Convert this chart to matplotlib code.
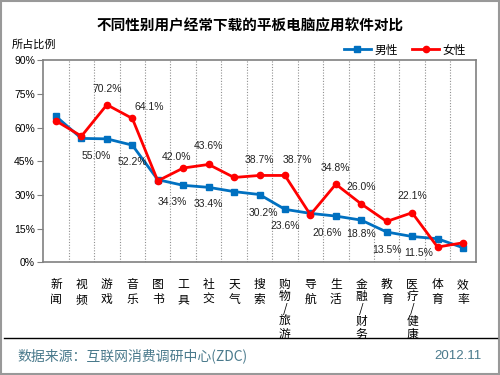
import matplotlib
matplotlib.use("Agg")
import matplotlib.pyplot as plt
from matplotlib.patches import Rectangle
from matplotlib.lines import Line2D

plt.rcParams['font.family'] = ['Liberation Sans', 'Noto Sans CJK SC', 'DejaVu Sans']

categories = ['新闻', '视频', '游戏', '音乐', '图书', '工具', '社交', '天气', '搜索',
              '购物/旅游', '导航', '生活', '金融/财务', '教育', '医疗/健康', '体育', '效率']
male = [65.0, 55.2, 55.0, 52.2, 36.8, 34.3, 33.4, 31.5, 30.2, 23.6, 21.8, 20.6, 18.8, 13.5, 11.5, 10.5, 6.5]
female = [63.0, 56.2, 70.2, 64.1, 36.3, 42.0, 43.6, 37.8, 38.7, 38.7, 21.2, 34.8, 26.0, 18.2, 22.1, 6.8, 8.7]
yticks = [0, 15, 30, 45, 60, 75, 90]

# which points get a value label, and where the label sits (offset in points)
male_label_off = {2: (-8, -12), 3: (0, -12), 5: (-8, -12), 6: (0, -12), 8: (3, -13),
                  9: (0, -12), 11: (-6, -12), 12: (0, -10), 13: (0, -13), 14: (5, -12)}
female_label_off = {2: (0, 11), 3: (12, 8), 5: (-5, 8), 6: (0, 13), 8: (0, 11),
                    9: (9, 11), 11: (0, 12), 12: (0, 12), 14: (0, 12)}

blue = '#0070C0'
red = '#FF0000'
grey = '#808080'

fig = plt.figure(figsize=(5, 3.75), dpi=100)
ax = fig.add_axes([0.0866, 0.3005, 0.8648, 0.5387])

x = list(range(len(categories)))
ax.plot(x, male, color=blue, lw=2, marker='s', ms=4.5, label='男性', zorder=3)
ax.plot(x, female, color=red, lw=2, marker='o', ms=4.5, label='女性', zorder=4)

for i, (dx, dy) in male_label_off.items():
    ax.annotate('%.1f%%' % male[i], (i, male[i]), xytext=(dx, dy), textcoords='offset points',
                ha='center', va='center', fontsize=7.5, color='#222222')
for i, (dx, dy) in female_label_off.items():
    ax.annotate('%.1f%%' % female[i], (i, female[i]), xytext=(dx, dy), textcoords='offset points',
                ha='center', va='center', fontsize=7.5, color='#222222')

ax.set_xlim(-0.5, len(categories) - 0.5)
ax.set_ylim(0, 90)
ax.set_yticks(yticks)
ax.set_yticklabels(['%d%%' % v for v in yticks], fontsize=7.5)
ax.set_xticks(x)
ax.set_xticklabels(['\n'.join(c) for c in categories], fontsize=8.5,
                   family=['Noto Sans CJK SC', 'DejaVu Sans'], linespacing=1.25)
# the long labels with a slash are packed tighter so they stay above the footer line
for t in ax.get_xticklabels():
    if '/' in t.get_text():
        t.set_linespacing(0.95)
ax.set_xticks([k + 0.5 for k in x[:-1]], minor=True)
ax.tick_params(axis='x', which='both', length=0, pad=11)
ax.tick_params(axis='y', length=4, color=grey, pad=2)
ax.grid(True, which='minor', axis='x', linestyle=(0, (1, 1.5)), color='#909090', lw=0.8)
for s in ax.spines.values():
    s.set_color(grey)
    s.set_linewidth(1.2)

fig.text(0.5, 0.933, '不同性别用户经常下载的平板电脑应用软件对比', ha='center', va='center',
         fontsize=10.5, fontweight='bold', family=['Noto Sans CJK SC'])
fig.text(0.024, 1 - 44 / 375, '所占比例', ha='left', va='center', fontsize=8,
         family=['Noto Sans CJK SC'])
fig.legend(loc='center', bbox_to_anchor=(405 / 500, 1 - 50 / 375), ncol=2, frameon=False,
           prop={'family': 'Noto Sans CJK SC', 'size': 8.5}, handlelength=2.3,
           columnspacing=1.2, handletextpad=0.3, borderpad=0)

fig.lines.append(Line2D([4 / 500, 497 / 500], [1 - 338 / 375] * 2, transform=fig.transFigure,
                        color='black', lw=1))
fig.text(17 / 500, 1 - 356 / 375, '数据来源：互联网消费调研中心(ZDC)', ha='left', va='center',
         fontsize=10, color='#4A7A8C', family=['Noto Sans CJK SC', 'DejaVu Sans'])
fig.text(482 / 500, 1 - 356 / 375, '2012.11', ha='right', va='center', fontsize=9.5,
         color='#4A7A8C')
fig.patches.append(Rectangle((0.002, 0.002), 0.996, 0.996, transform=fig.transFigure,
                             fill=False, edgecolor='#999999', lw=1.5))

fig.savefig('out.png', dpi=100)
